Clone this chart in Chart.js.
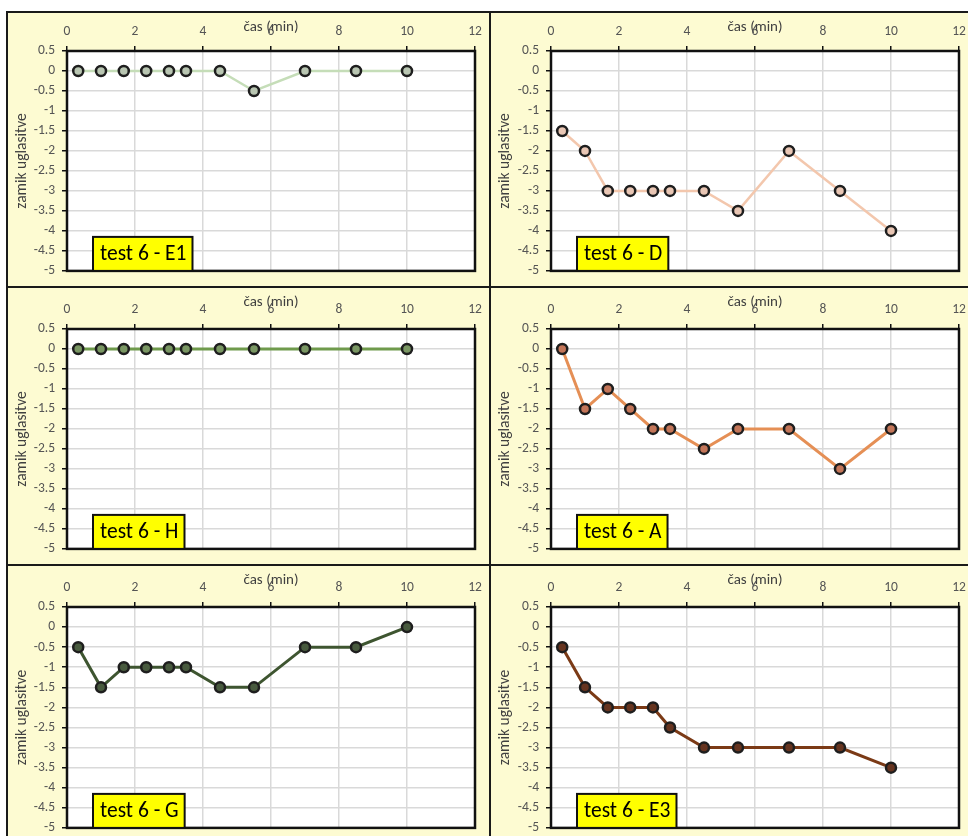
<!DOCTYPE html>
<html>
<head>
<meta charset="utf-8">
<script src="https://cdn.jsdelivr.net/npm/chart.js@4.4.0/dist/chart.umd.min.js"></script>
<style>
  body { margin: 0; background: #fff; }
  #sheet { position: relative; width: 968px; height: 836px; overflow: hidden; background: #fff; }
  .panel { position: absolute; background: #fdfbd2; }
  .panel canvas { display: block; }
  .rule { position: absolute; background: #1a1a1a; }
</style>
</head>
<body>
<div id="sheet"></div>
<script>
// measurement times (min) shared by all tests
const times = [0.33, 1, 1.67, 2.33, 3, 3.5, 4.5, 5.5, 7, 8.5, 10];
const xTicks = [0, 2, 4, 6, 8, 10, 12];
const yTicks = [0.5, 0, -0.5, -1, -1.5, -2, -2.5, -3, -3.5, -4, -4.5, -5];

// tuning offset per test
const testE1 = [0, 0, 0, 0, 0, 0, 0, -0.5, 0, 0, 0];
const testD  = [-1.5, -2, -3, -3, -3, -3, -3, -3.5, -2, -3, -4];
const testH  = [0, 0, 0, 0, 0, 0, 0, 0, 0, 0, 0];
const testA  = [0, -1.5, -1, -1.5, -2, -2, -2.5, -2, -2, -3, -2];
const testG  = [-0.5, -1.5, -1, -1, -1, -1, -1.5, -1.5, -0.5, -0.5, 0];
const testE3 = [-0.5, -1.5, -2, -2, -2, -2.5, -3, -3, -3, -3, -3.5];

const FONT = 'Carlito, Lato, sans-serif';

// grid cells: panel box + where the plot area sits inside it
const cols = [
  { left: 8, width: 481, plotLeft: 59, padRight: 14 },
  { left: 491, width: 484, plotLeft: 60, padRight: 16 }
];
const rows = [
  { top: 13, height: 273, plotTop: 38, padBottom: 9 },
  { top: 288, height: 276, plotTop: 41, padBottom: 11 },
  { top: 566, height: 277, plotTop: 41, padBottom: 14 }
];

const panels = [
  { label: 'test 6 - E1', values: testE1, line: '#c5ddb8', dot: '#b9c6b2', width: 2.5, col: 0, row: 0 },
  { label: 'test 6 - D',  values: testD,  line: '#f3c7ad', dot: '#e9c6b4', width: 2.5, col: 1, row: 0 },
  { label: 'test 6 - H',  values: testH,  line: '#6f9a4c', dot: '#7a9763', width: 3,   col: 0, row: 1 },
  { label: 'test 6 - A',  values: testA,  line: '#e58f55', dot: '#c47659', width: 3,   col: 1, row: 1 },
  { label: 'test 6 - G',  values: testG,  line: '#3e5530', dot: '#485a3e', width: 3,   col: 0, row: 2 },
  { label: 'test 6 - E3', values: testE3, line: '#7b3a16', dot: '#66341f', width: 3,   col: 1, row: 2 }
];

const sheet = document.getElementById('sheet');

// black frame lines between the panels
[
  { left: 6, top: 11, width: 2, height: 830 },
  { left: 489, top: 11, width: 2, height: 830 },
  { left: 6, top: 11, width: 970, height: 2 },
  { left: 6, top: 286, width: 970, height: 2 },
  { left: 6, top: 564, width: 970, height: 2 }
].forEach(r => {
  const d = document.createElement('div');
  d.className = 'rule';
  Object.assign(d.style, { left: r.left + 'px', top: r.top + 'px', width: r.width + 'px', height: r.height + 'px' });
  sheet.appendChild(d);
});

// white plot background + black frame
const plotFrame = {
  id: 'plotFrame',
  beforeDraw(chart) {
    const { ctx, chartArea: a } = chart;
    ctx.save();
    ctx.fillStyle = '#fff';
    ctx.fillRect(a.left, a.top, a.right - a.left, a.bottom - a.top);
    ctx.restore();
  },
  beforeDatasetsDraw(chart) {
    const { ctx, chartArea: a } = chart;
    ctx.save();
    ctx.strokeStyle = '#111';
    ctx.lineWidth = 2.5;
    ctx.strokeRect(a.left, a.top, a.right - a.left, a.bottom - a.top);
    ctx.restore();
  }
};

// yellow name tag in the lower left corner
const nameTag = {
  id: 'nameTag',
  afterDraw(chart, args, opts) {
    const { ctx, chartArea: a } = chart;
    ctx.save();
    ctx.font = '21.5px ' + FONT;
    const w = ctx.measureText(opts.text).width + 13;
    const h = 34;
    const x = a.left + 26, y = a.bottom - h;
    ctx.fillStyle = '#ffff00';
    ctx.fillRect(x, y, w, h);
    ctx.strokeStyle = '#111';
    ctx.lineWidth = 2;
    ctx.strokeRect(x, y, w, h);
    ctx.fillStyle = '#000';
    ctx.textBaseline = 'middle';
    ctx.fillText(opts.text, x + 7, y + h / 2 + 1);
    ctx.restore();
  }
};

panels.forEach(p => {
  const c = cols[p.col], r = rows[p.row];
  const box = document.createElement('div');
  box.className = 'panel';
  Object.assign(box.style, { left: c.left + 'px', top: r.top + 'px', width: c.width + 'px', height: r.height + 'px' });
  const canvas = document.createElement('canvas');
  canvas.width = c.width;
  canvas.height = r.height;
  box.appendChild(canvas);
  sheet.appendChild(box);

  new Chart(canvas, {
    type: 'line',
    data: {
      datasets: [{
        data: times.map((t, i) => ({ x: t, y: p.values[i] })),
        borderColor: p.line,
        borderWidth: p.width,
        pointRadius: 5,
        pointBorderWidth: 2.5,
        pointBorderColor: '#1e1e1e',
        pointBackgroundColor: p.dot,
        tension: 0,
        clip: false
      }]
    },
    options: {
      responsive: false,
      animation: false,
      devicePixelRatio: 1,
      layout: { padding: { left: 0, top: 0, right: c.padRight, bottom: r.padBottom } },
      plugins: {
        legend: { display: false },
        tooltip: { enabled: false },
        nameTag: { text: p.label }
      },
      scales: {
        x: {
          type: 'linear',
          position: 'top',
          min: 0,
          max: 12,
          afterBuildTicks(s) { s.ticks = xTicks.map(v => ({ value: v })); },
          afterFit(s) { s.height = r.plotTop; },
          ticks: { font: { family: FONT, size: 13.5 }, color: '#555', padding: 6, maxRotation: 0, callback: v => String(v) },
          grid: { color: '#d9d9d9', lineWidth: 1.5, tickColor: '#111', tickLength: 5, tickWidth: 1.5 },
          border: { display: false },
          title: { display: true, text: 'čas (min)', font: { family: FONT, size: 15 }, color: '#404040', padding: { top: 5 } }
        },
        y: {
          min: -5,
          max: 0.5,
          afterBuildTicks(s) { s.ticks = yTicks.map(v => ({ value: v })); },
          afterFit(s) { s.width = c.plotLeft; },
          ticks: { font: { family: FONT, size: 13.5 }, color: '#555', padding: 7, callback: v => String(v) },
          grid: { color: '#d9d9d9', lineWidth: 1.5, tickColor: '#111', tickLength: 5, tickWidth: 1.5 },
          border: { display: false },
          title: { display: true, text: 'zamik uglasitve', font: { family: FONT, size: 15.5 }, color: '#404040', padding: { top: 5 } }
        }
      }
    },
    plugins: [plotFrame, nameTag]
  });
});
</script>
</body>
</html>
